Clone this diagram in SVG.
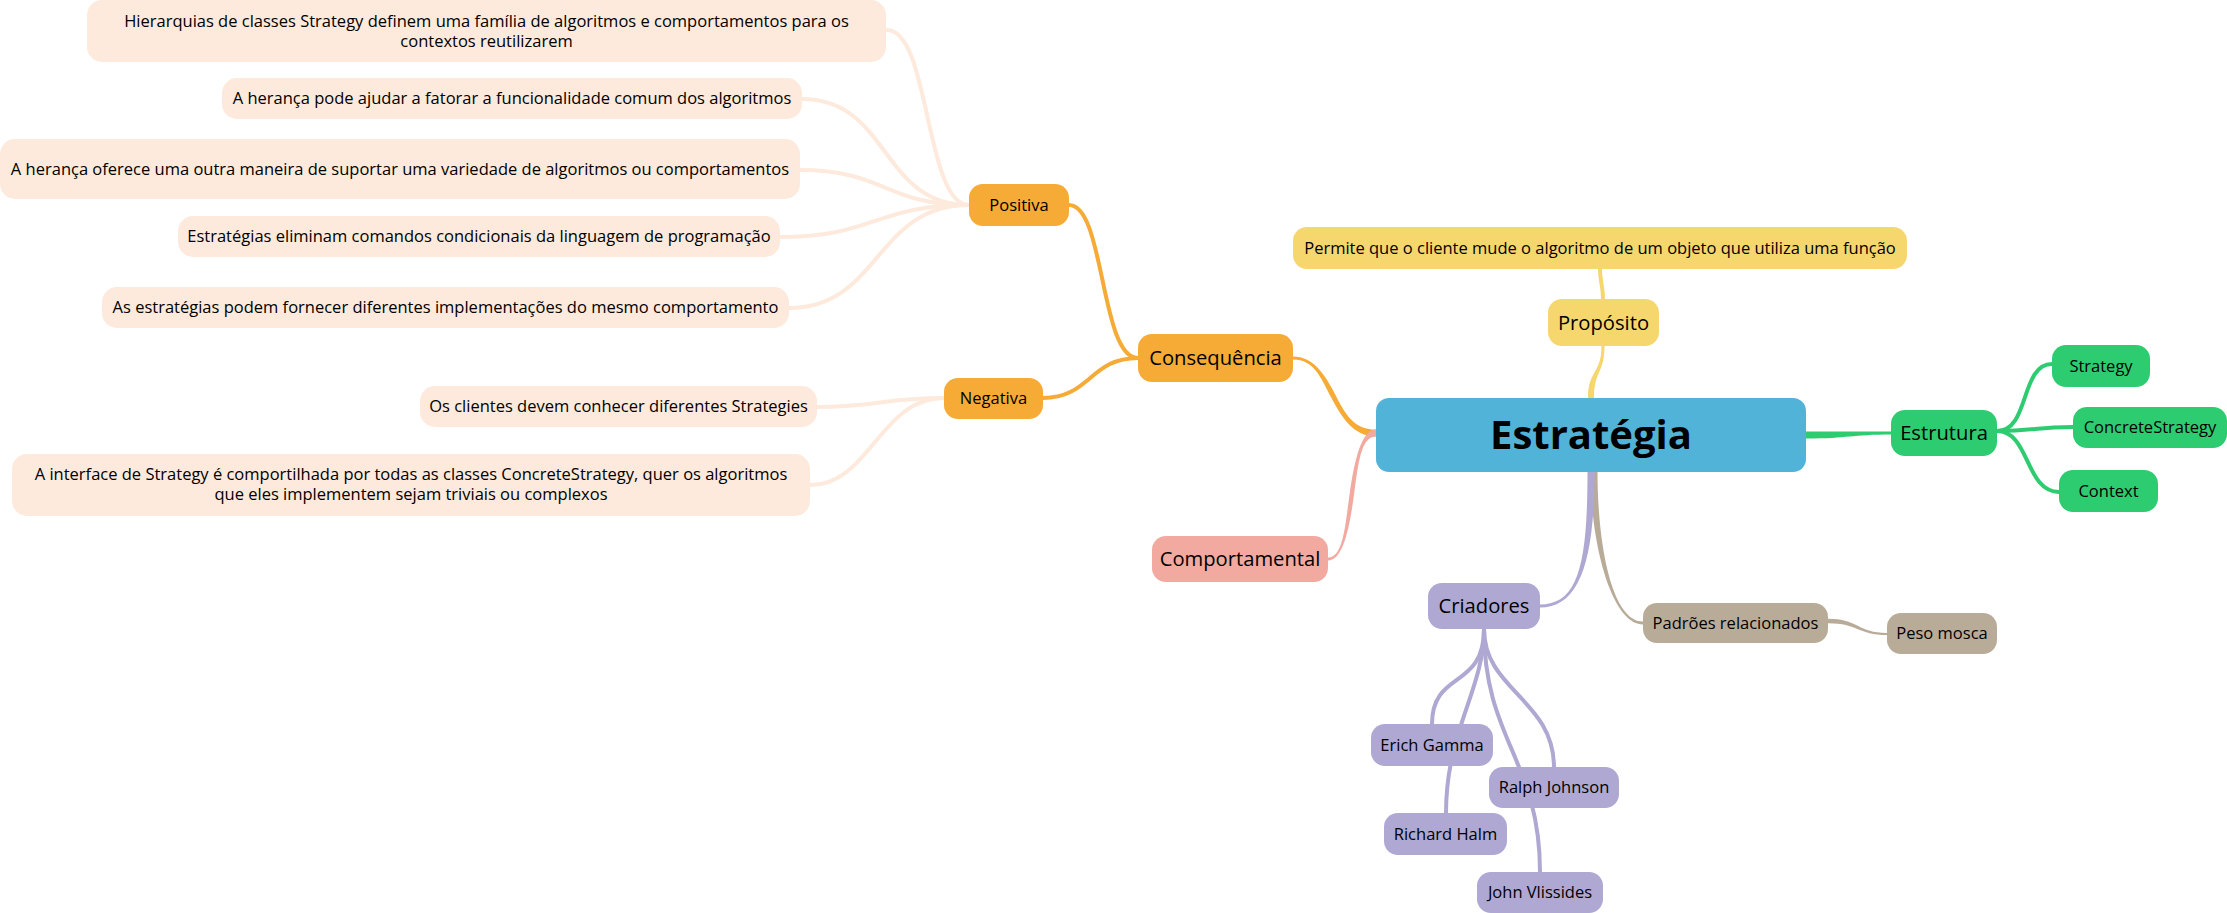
<svg xmlns="http://www.w3.org/2000/svg" width="2227" height="913" viewBox="0 0 2227 913">
<defs>
<style>
text{font-family:"Open Sans","Noto Sans","DejaVu Sans",sans-serif;fill:#000;text-anchor:middle}
.t16{font-size:16.5px}
.t20{font-size:20.2px}
.troot{font-size:40px;font-weight:bold}
.c{fill:none;stroke-linecap:round}
.w4{stroke-width:4}
.blue{fill:#52b3d9}
.yel{fill:#f5d76e}
.grn{fill:#2ecc71}
.org{fill:#f5ab35}
.pch{fill:#fdeadc}
.pnk{fill:#f1a9a0}
.pur{fill:#aea8d3}
.tan{fill:#b8ac99}
.sy{stroke:#f5d76e}
.sg{stroke:#2ecc71}
.so{stroke:#f5ab35}
.sp{stroke:#fdeadc}
.su{stroke:#aea8d3}
.st{stroke:#b8ac99}
</style>
</defs>
<rect width="2227" height="913" fill="#ffffff"/>
<g id="connectors">
<path class="yel" d="M1588 398 C1588 370 1601.5 374 1601.5 346 L1604.5 346 C1604.5 374 1594 370 1594 398 Z"/>
<path class="c sy w4" d="M1603 299 C1603 285 1600 283 1600 269"/>
<path class="grn" d="M1806 431.5 C1850 431.5 1850 431.5 1892 431.5 L1892 434.5 C1850 434.5 1850 438.5 1806 438.5 Z"/>
<path class="c sg w4" d="M1997 431 C2030 431 2020 364 2052 364"/>
<path class="c sg w4" d="M1997 431 C2035 431 2035 427 2073 427"/>
<path class="c sg w4" d="M1997 431 C2030 431 2025 492 2059 492"/>
<path class="org" d="M1376 429.5 C1353 429.5 1345 413.1 1335.2 394.4 C1325.5 375.6 1314 356.5 1293 356.5 L1293 359.5 C1314 359.5 1321 377.9 1330.8 396.7 C1340.5 415.4 1353 436.5 1376 436.5 Z"/>
<path class="c so w4" d="M1138 358 C1100 358 1105 205 1069 205"/>
<path class="c so w4" d="M1138 358 C1090 358 1090 398 1043 398"/>
<path class="c sp w4" d="M969 205 C925 205 930 30 887 30"/>
<path class="c sp w4" d="M969 205 C880 205 890 99 802 99"/>
<path class="c sp w4" d="M969 205 C885 205 885 170 800 170"/>
<path class="c sp w4" d="M969 205 C875 205 875 237 780 237"/>
<path class="c sp w4" d="M969 205 C875 205 880 308 789 308"/>
<path class="c sp w4" d="M944 398 C880 398 880 407 817 407"/>
<path class="c sp w4" d="M944 398 C880 398 870 485 810 485"/>
<path class="pnk" d="M1376 429.5 C1360.5 429.5 1353.8 464.2 1349.4 495.7 C1345 527.2 1343 557.5 1328 557.5 L1328 560.5 C1343 560.5 1349.5 527.8 1353.8 496.3 C1358.2 464.8 1360.5 436.5 1376 436.5 Z"/>
<path class="tan" d="M1590.5 472 C1590.5 545 1612 624.5 1643 624.5 L1643 621.5 C1612 621.5 1597.5 545 1597.5 472 Z"/>
<path class="pur" d="M1587.5 472 C1587.5 565 1578 604.5 1540 604.5 L1540 607.5 C1578 607.5 1594.5 565 1594.5 472 Z"/>
<path class="tan" d="M1828 618.8 C1858 618.8 1858 633 1887 633 L1887 635 C1858 635 1858 623.2 1828 623.2 Z"/>
<path class="c su w4" d="M1484 629 C1484 690 1432 670 1432 724"/>
<path class="c su w4" d="M1484 629 C1484 690 1446 730 1446 813"/>
<path class="c su w4" d="M1484 629 C1484 690 1554 700 1554 767"/>
<path class="c su w4" d="M1484 629 C1484 740 1540 760 1540 872"/>
</g>
<g id="root"><rect class="blue" x="1376" y="398" width="430" height="74" rx="13"/><text class="troot" x="1591" y="449">Estratégia</text></g>
<g id="proposito"><rect class="yel" x="1548" y="299" width="111" height="47" rx="14"/><text class="t20" x="1603.5" y="329.7">Propósito</text></g>
<g id="permite"><rect class="yel" x="1293" y="227" width="614" height="42" rx="14"/><text class="t16" x="1600" y="253.8">Permite que o cliente mude o algoritmo de um objeto que utiliza uma função</text></g>
<g id="estrutura"><rect class="grn" x="1891" y="410" width="106" height="46" rx="14"/><text class="t20" x="1944" y="440.2">Estrutura</text></g>
<g id="strategy"><rect class="grn" x="2052" y="345" width="98" height="42" rx="14"/><text class="t16" x="2101" y="371.8">Strategy</text></g>
<g id="concretestrategy"><rect class="grn" x="2073" y="407" width="154" height="41" rx="14"/><text class="t16" x="2150" y="433.3">ConcreteStrategy</text></g>
<g id="context"><rect class="grn" x="2059" y="470" width="99" height="42" rx="14"/><text class="t16" x="2108.5" y="496.8">Context</text></g>
<g id="consequencia"><rect class="org" x="1138" y="334" width="155" height="48" rx="14"/><text class="t20" x="1215.5" y="365.2">Consequência</text></g>
<g id="positiva"><rect class="org" x="969" y="184" width="100" height="42" rx="14"/><text class="t16" x="1019" y="210.8">Positiva</text></g>
<g id="negativa"><rect class="org" x="944" y="378" width="99" height="41" rx="14"/><text class="t16" x="993.5" y="404.3">Negativa</text></g>
<g id="pos1"><rect class="pch" x="87" y="0" width="799" height="62" rx="15"/><text class="t16" x="486.5" y="27">Hierarquias de classes Strategy definem uma família de algoritmos e comportamentos para os</text><text class="t16" x="486.5" y="47">contextos reutilizarem</text></g>
<g id="pos2"><rect class="pch" x="222" y="78" width="580" height="41" rx="15"/><text class="t16" x="512" y="104.3">A herança pode ajudar a fatorar a funcionalidade comum dos algoritmos</text></g>
<g id="pos3"><rect class="pch" x="0" y="139" width="800" height="60" rx="15"/><text class="t16" x="400" y="174.8">A herança oferece uma outra maneira de suportar uma variedade de algoritmos ou comportamentos</text></g>
<g id="pos4"><rect class="pch" x="178" y="216" width="602" height="41" rx="15"/><text class="t16" x="479" y="242.3">Estratégias eliminam comandos condicionais da linguagem de programação</text></g>
<g id="pos5"><rect class="pch" x="102" y="287" width="687" height="41" rx="15"/><text class="t16" x="445.5" y="313.3">As estratégias podem fornecer diferentes implementações do mesmo comportamento</text></g>
<g id="neg1"><rect class="pch" x="420" y="386" width="397" height="41" rx="15"/><text class="t16" x="618.5" y="412.3">Os clientes devem conhecer diferentes Strategies</text></g>
<g id="neg2"><rect class="pch" x="12" y="454" width="798" height="62" rx="15"/><text class="t16" x="411" y="480">A interface de Strategy é comportilhada por todas as classes ConcreteStrategy, quer os algoritmos</text><text class="t16" x="411" y="500">que eles implementem sejam triviais ou complexos</text></g>
<g id="comportamental"><rect class="pnk" x="1152" y="536" width="176" height="46" rx="14"/><text class="t20" x="1240" y="566.2">Comportamental</text></g>
<g id="criadores"><rect class="pur" x="1428" y="583" width="112" height="46" rx="14"/><text class="t20" x="1484" y="613.2">Criadores</text></g>
<g id="padroes"><rect class="tan" x="1643" y="603" width="185" height="40" rx="14"/><text class="t16" x="1735.5" y="628.8">Padrões relacionados</text></g>
<g id="pesomosca"><rect class="tan" x="1887" y="613" width="110" height="41" rx="14"/><text class="t16" x="1942" y="639.3">Peso mosca</text></g>
<g id="erich"><rect class="pur" x="1371" y="724" width="122" height="42" rx="14"/><text class="t16" x="1432" y="750.8">Erich Gamma</text></g>
<g id="ralph"><rect class="pur" x="1489" y="767" width="130" height="41" rx="14"/><text class="t16" x="1554" y="793.3">Ralph Johnson</text></g>
<g id="richard"><rect class="pur" x="1384" y="813" width="123" height="42" rx="14"/><text class="t16" x="1445.5" y="839.8">Richard Halm</text></g>
<g id="john"><rect class="pur" x="1477" y="872" width="126" height="41" rx="14"/><text class="t16" x="1540" y="898.3">John Vlissides</text></g>
</svg>
